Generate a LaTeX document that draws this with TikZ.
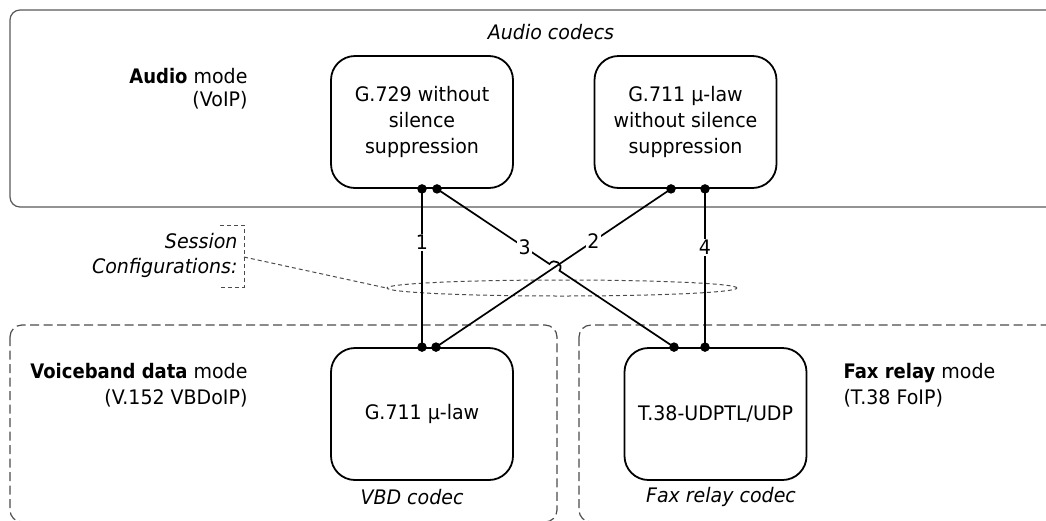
\documentclass[tikz,border=0pt]{standalone}
\usepackage{fontspec}
\setmainfont{DejaVu Sans}[FakeStretch=0.95, BoldFeatures={FakeStretch=0.9}]
\usetikzlibrary{shapes.geometric,calc,intersections}
\begin{document}
\begin{tikzpicture}[x=1pt,y=-1pt,
  txt/.style={font=\fontsize{20}{26}\selectfont},
  itxt/.style={font=\fontsize{20}{25}\selectfont\itshape},
  codec/.style={draw=black, line width=1.8pt, rounded corners=24pt, minimum width=182pt, minimum height=132pt, align=center, inner sep=0pt, txt},
  conn/.style={line width=1.7pt},
  dot/.style={circle, fill=black, inner sep=0pt, minimum size=9.5pt},
  lbl/.style={fill=white, inner sep=1.5pt, txt},
  region/.style={draw=black!65, line width=1.2pt},
  dregion/.style={draw=black!70, line width=1.2pt, dash pattern=on 9pt off 4.5pt},
  sdash/.style={draw=black!70, line width=1pt, dash pattern=on 4pt off 3pt}]
\useasboundingbox (0,0) rectangle (1046,520);

% regions
\draw[region, rounded corners=10pt] (10,10) rectangle (1070,207);
\draw[dregion, rounded corners=12pt] (10,325) rectangle (557,522);
\draw[dregion, rounded corners=12pt] (579,325) rectangle (1070,522);

% region texts
\node[itxt] (acod) at (551,32) {Audio codecs};
\node[align=right, anchor=east, font=\fontsize{20}{23.5}\selectfont] (amode) at (251,88.5) {\textbf{Audio} mode\\(VoIP)};
\node[align=right, anchor=east, txt] (vmode) at (251,385) {\textbf{Voiceband data} mode\\(V.152 VBDoIP)};
\node[align=left, anchor=west, txt] (fmode) at (840,385) {\textbf{Fax relay} mode\\(T.38 FoIP)};
\node[itxt] (vbd) at (412,497) {VBD codec};
\node[itxt] (frc) at (721,497) {Fax relay codec};

% session configurations
\node[sdash, ellipse, minimum width=350pt, minimum height=16pt, inner sep=0pt] (sess) at (562,288) {};
\node[itxt, align=right, anchor=east] (stext) at (241,255.5) {Session\\Configurations:};
\draw[sdash] (220,225) -| (244,287) -- (220,287);
\coordinate (br) at (244,257);
\draw[sdash] (br) -- (sess.west);

% codec boxes
\node[codec] (g729) at (422,122) {G.729 without\\silence\\suppression};
\node[codec] (g711a) at (685.5,122) {G.711 µ-law\\without silence\\suppression};
\node[codec] (g711b) at (422,414) {G.711 µ-law};
\node[codec] (t38) at (715.5,414) {T.38-UDPTL/UDP};

% connection points
\coordinate (a1) at (g729.south);
\coordinate (a2) at ([xshift=15pt]g729.south);
\coordinate (b1) at ([xshift=-14.5pt]g711a.south);
\coordinate (b2) at ([xshift=19.5pt]g711a.south);
\coordinate (c1) at (g711b.north);
\coordinate (c2) at ([xshift=14pt]g711b.north);
\coordinate (e1) at ([xshift=-41.5pt]t38.north);
\coordinate (e2) at ([xshift=-10.5pt]t38.north);

% connectors
\draw[conn] (a1) -- (c1);
\draw[conn, name path=l2] (b1) -- (c2);
\draw[conn] (b2) -- (e2);
\path[name path=l3] (a2) -- (e1);
\path[name intersections={of=l2 and l3, by=X}];
\coordinate (P) at ($(X)!6pt!(a2)$);
\coordinate (Q) at ($(X)!6pt!(e1)$);
\draw[conn] (a2) -- (P) .. controls ($(P)+(4.5,-6.6)$) and ($(Q)+(4.5,-6.6)$) .. (Q) -- (e1);

% dots
\foreach \p in {a1,a2,b1,b2,c1,c2,e1,e2}
  \node[dot] (dot-\p) at (\p) {};

% labels
\path (a1) -- node[lbl, pos=0.34] (n1) {1} (c1);
\path (b1) -- node[lbl, pos=0.33] (n2) {2} (c2);
\path (a2) -- node[lbl, pos=0.37] (n3) {3} (e1);
\path (b2) -- node[lbl, pos=0.37] (n4) {4} (e2);
\end{tikzpicture}
\end{document}
